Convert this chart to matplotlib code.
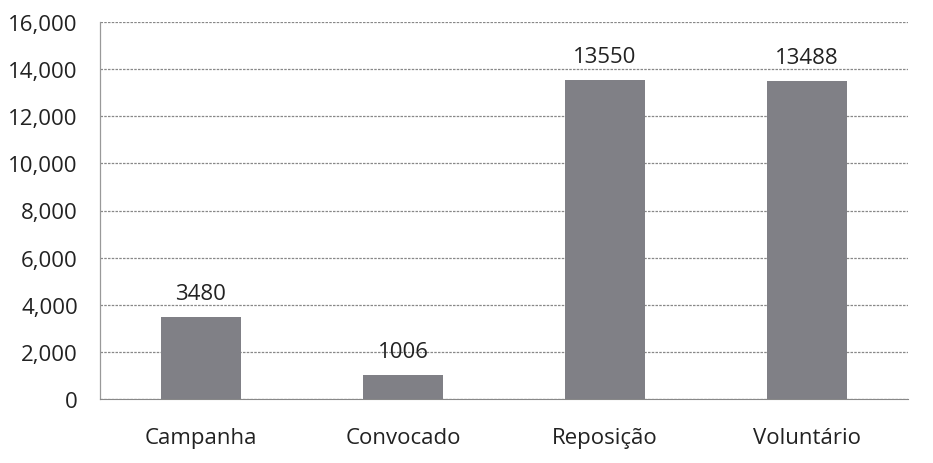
import matplotlib.pyplot as plt
from matplotlib.ticker import FuncFormatter

categorias = ["Campanha", "Convocado", "Reposição", "Voluntário"]
valores = [3480, 1006, 13550, 13488]
yticks = [0, 2000, 4000, 6000, 8000, 10000, 12000, 14000, 16000]

plt.rcParams['font.family'] = ['Open Sans', 'DejaVu Sans']

fig = plt.figure(figsize=(9.33, 4.64), dpi=100, facecolor="white")
ax = fig.add_axes([100 / 933, 1 - 400 / 464, 808 / 933, 377 / 464])

x = range(len(categorias))
bars = ax.bar(x, valores, width=0.4, color="#808086", zorder=3)
for b, v in zip(bars, valores):
    ax.text(b.get_x() + b.get_width() / 2, v + 550, str(v),
            ha="center", va="bottom", fontsize=16, color="#222222")

ax.set_xlim(-0.5, 3.5)
ax.set_ylim(0, 16000)
ax.set_yticks(yticks)
ax.yaxis.set_major_formatter(FuncFormatter(lambda v, p: f"{int(v):,}"))
ax.set_xticks(list(x))
ax.set_xticklabels(categorias)
ax.tick_params(axis="both", length=0, labelsize=16, colors="#222222")
ax.tick_params(axis="x", pad=20)
ax.tick_params(axis="y", pad=16)

ax.grid(axis="y", color="#888888", linestyle=(0, (2, 1)), linewidth=0.9, zorder=0)
for s in ["top", "right"]:
    ax.spines[s].set_visible(False)
ax.spines["left"].set_color("#999999")
ax.spines["bottom"].set_color("#888888")
ax.spines["left"].set_linewidth(0.9)

fig.savefig("out.png", dpi=100, facecolor="white")
